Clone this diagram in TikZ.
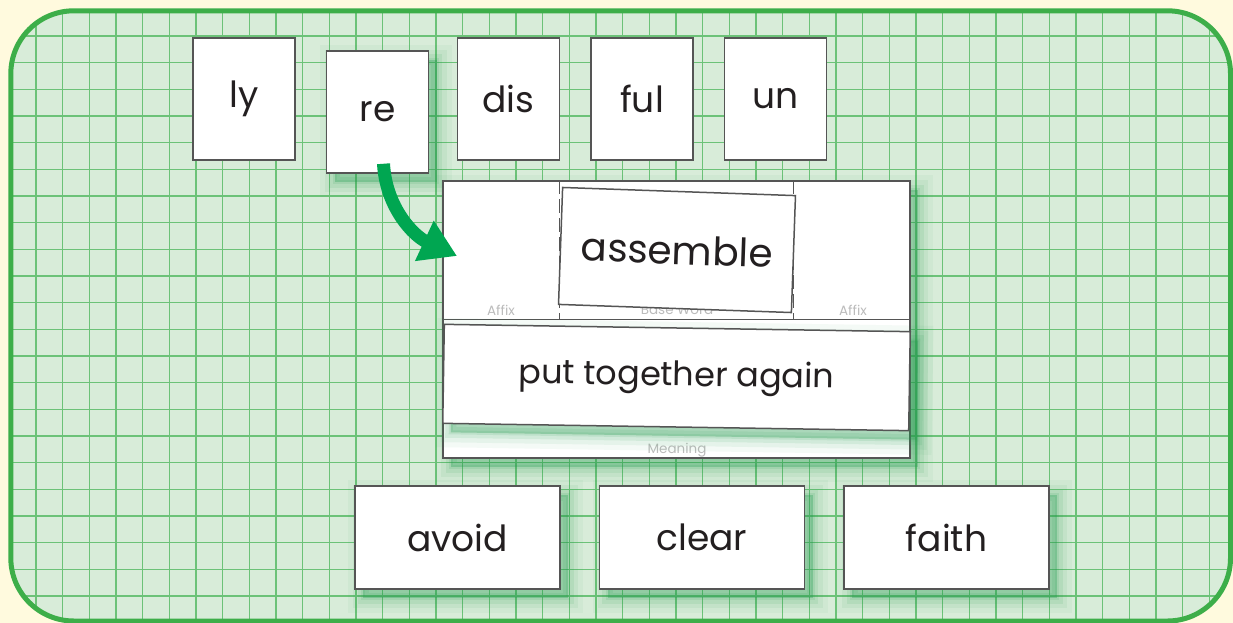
\documentclass[tikz,border=0pt]{standalone}
\usepackage{fontspec}
\setmainfont{Poppins}
\usetikzlibrary{positioning}
\usetikzlibrary{arrows.meta}
\definecolor{creambg}{RGB}{255,250,222}
\definecolor{boardgreen}{RGB}{61,174,73}
\definecolor{paperfill}{RGB}{216,236,217}
\definecolor{gridgreen}{RGB}{108,194,120}
\definecolor{arrowgreen}{RGB}{0,166,81}
\definecolor{shadegreen}{RGB}{40,158,82}
\definecolor{inkgray}{RGB}{85,85,85}
\definecolor{labelgray}{RGB}{188,188,188}
\definecolor{wordink}{RGB}{35,31,32}
\tikzset{gridline/.style={draw=gridgreen,line width=1.4pt}}
\tikzset{greenshadow/.style={
preaction={fill=shadegreen,draw=shadegreen,line width=30pt,opacity=0.05,transform canvas={shift={(8pt,-9pt)}}},
preaction={fill=shadegreen,draw=shadegreen,line width=20pt,opacity=0.07,transform canvas={shift={(8pt,-9pt)}}},
preaction={fill=shadegreen,draw=shadegreen,line width=11pt,opacity=0.1,transform canvas={shift={(8pt,-9pt)}}},
preaction={fill=shadegreen,draw=shadegreen,line width=4pt,opacity=0.12,transform canvas={shift={(8pt,-9pt)}}}}}
\tikzset{affixcard/.style={rectangle,draw=inkgray,fill=white,line width=1.5pt,
inner sep=0pt,minimum width=102pt,minimum height=122pt,text=wordink,
font=\fontsize{36}{40}\selectfont}}
\tikzset{wordcard/.style={rectangle,draw=inkgray,fill=white,line width=1.5pt,
inner sep=0pt,minimum width=205pt,minimum height=103pt,text=wordink,
font=\fontsize{36}{40}\selectfont,greenshadow}}
\tikzset{boardlabel/.style={text=labelgray,inner sep=0pt,font=\fontsize{13.5}{15}\selectfont}}
\tikzset{boardline/.style={draw=inkgray,line width=1.5pt}}

\begin{document}
\begin{tikzpicture}[x=1pt,y=-1pt]
    \useasboundingbox (0,0) rectangle (1233,623);
    \fill[creambg] (0,0) rectangle (1233,623);

    % green grid paper
    \fill[paperfill,rounded corners=63pt] (10.8,10.8) rectangle (1230.5,621);
    \begin{scope}
        \clip[rounded corners=63pt] (10.8,10.8) rectangle (1230.5,621);
        \draw[gridline,step=26.667pt,shift={(9.333,9.333)}] (-9,-9) grid (1224,614);
    \end{scope}
    \draw[boardgreen,line width=5pt,rounded corners=63pt] (10.8,10.8) rectangle (1230.5,621);

    % affix cards
    \node[affixcard] (cardLy) at (244,99) {ly};
    \node[affixcard,greenshadow] (cardRe) [right=30pt of cardLy,yshift=-13pt] {re};
    \node[affixcard] (cardDis) at (508.5,99) {dis};
    \node[affixcard] (cardFul) [right=30pt of cardDis] {ful};
    \node[affixcard] (cardUn) [right=30pt of cardFul] {un};

    % word board
    \node[rectangle,draw=inkgray,fill=white,line width=1.5pt,minimum width=467pt,
        minimum height=277pt,greenshadow] (board) at (676.5,319.5) {};
    \draw[boardline] ([yshift=-139pt]board.north west) -- ([yshift=-139pt]board.north east);
    \draw[boardline,line width=1pt,dash pattern=on 14pt off 5pt]
        ([xshift=117pt]board.north west) -- ([xshift=117pt,yshift=-139pt]board.north west);
    \draw[boardline,line width=1pt,dash pattern=on 14pt off 5pt]
        ([xshift=-117pt]board.north east) -- ([xshift=-117pt,yshift=-139pt]board.north east);
    \node[boardlabel] (lblAffixL) at (501,310) {Affix};
    \node[boardlabel] (lblBase) at (677,310) {Base Word};
    \node[boardlabel] (lblAffixR) at (853,310) {Affix};
    \node[boardlabel] (lblMeaning) at (677,450) {Meaning};

    \node[rectangle,draw=inkgray,fill=white,line width=1.5pt,inner sep=0pt,
        minimum width=466pt,minimum height=99pt,rotate=-0.9,text=wordink,
        font=\fontsize{33.5}{38}\selectfont,greenshadow] (cardMeaning) at (676.5,377.5) {put together again};
    \node[rectangle,draw=inkgray,fill=white,line width=1.5pt,inner sep=0pt,
        minimum width=233pt,minimum height=117pt,rotate=-2,text=wordink,
        font=\fontsize{39}{44}\selectfont] (cardBase) at (677,250) {assemble};

    % word cards
    \node[wordcard] (cardAvoid) at (457.5,537.5) {avoid};
    \node[wordcard] (cardClear) [right=38pt of cardAvoid] {clear};
    \node[wordcard] (cardFaith) [right=38pt of cardClear] {faith};

    % move re onto the board
    \coordinate (arrowTip) at (457,256);
    \draw[arrowgreen,line width=13pt,-{Triangle[length=36pt,width=42pt]}]
        ([xshift=6pt,yshift=10pt]cardRe.south) .. controls (386,208) and (414,236) .. (arrowTip);

\end{tikzpicture}
\end{document}
